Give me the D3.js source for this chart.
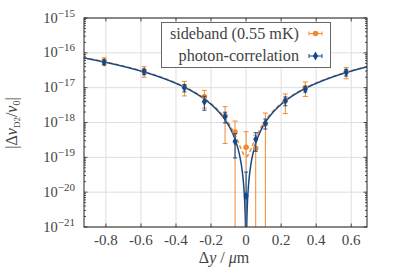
<!DOCTYPE html>
<html><head><meta charset="utf-8">
<script src="https://cdn.jsdelivr.net/npm/d3@7"></script>
<style>
html,body{margin:0;padding:0;background:#fff;}
svg{display:block;font-family:"Liberation Serif","Times New Roman",serif;}
</style></head>
<body><svg id="c" width="395" height="276"></svg>
<script>
// ---- data ----
const xPositions = [-0.81, -0.582, -0.352, -0.238, -0.12, -0.063, 0.0, 0.055, 0.11, 0.224, 0.338, 0.571];
const photonValues = [5.35e-17, 2.87e-17, 9.97e-18, 3.95e-18, 1.47e-18, 2.86e-19, 7.8e-21, 3.29e-19, 9.5e-19, 4.22e-18, 8.97e-18, 2.76e-17];
const photonErrors = [7.7e-18, 5e-18, 2.4e-18, 1.7e-18, 5e-19, 1.9e-19, 3e-20, 1.8e-19, 3e-19, 1.2e-18, 1.5e-18, 6e-18];
const sidebandValues = [5.8e-17, 3.0e-17, 1.05e-17, 5.5e-18, 1.55e-18, 5.33e-19, 1.94e-19, 1.82e-19, 9.2e-19, 4.2e-18, 1.01e-17, 2.8e-17];
const sidebandErrors = [1.35e-17, 1e-17, 4.7e-18, 2.9e-18, 1.3e-18, 5.7e-19, 3.5e-19, 2.5e-19, 9.5e-19, 2.4e-18, 4.5e-18, 1e-17];
const xErrors = [0.008, 0.008, 0.008, 0.008, 0.008, 0.008, 0.008, 0.008, 0.008, 0.008, 0.008, 0.008];
const xTicks = [-0.8, -0.6, -0.4, -0.2, 0, 0.2, 0.4, 0.6];
const xTickLabels = ["-0.8", "-0.6", "-0.4", "-0.2", "0", "0.2", "0.4", "0.6"];
const yTickExponents = [-15, -16, -17, -18, -19, -20, -21];
const legendLabels = ["sideband (0.55 mK)", "photon-correlation"];
// fit-curve parameters (quadratic in Δy)
const photonFitK = 8.3e-17, photonFitX0 = 0.0;
const sidebandFitK = 8.5e-17, sidebandFitOffset = 1.05e-19;

const blue = "#144a8c", orange = "#ef8a2e";
const svg = d3.select("#c");
const L = 84, R = 367, T = 18, B = 227;
const x = d3.scaleLinear().domain([-0.925, 0.69]).range([L, R]);
const y = d3.scaleLog().domain([1e-21, 1e-15]).range([B, T]);

svg.append("defs").append("clipPath").attr("id","clip")
  .append("rect").attr("x",L).attr("y",T).attr("width",R-L).attr("height",B-T);

// grid
const grid = svg.append("g").attr("stroke","#dedede").attr("stroke-width",1);
xTicks.forEach(t=>grid.append("line").attr("x1",x(t)).attr("x2",x(t)).attr("y1",T).attr("y2",B));
yTickExponents.forEach(e=>grid.append("line").attr("x1",L).attr("x2",R).attr("y1",y(Math.pow(10,e))).attr("y2",y(Math.pow(10,e))));

// axes ticks (inward)
const ax = svg.append("g").attr("stroke","#222").attr("stroke-width",0.8);
xTicks.forEach(t=>{
  ax.append("line").attr("x1",x(t)).attr("x2",x(t)).attr("y1",B).attr("y2",B-3.5);
  ax.append("line").attr("x1",x(t)).attr("x2",x(t)).attr("y1",T).attr("y2",T+3.5);
});
for(let e=-21;e<=-15;e++){
  const v=Math.pow(10,e);
  ax.append("line").attr("x1",L).attr("x2",L+3.5).attr("y1",y(v)).attr("y2",y(v));
  ax.append("line").attr("x1",R).attr("x2",R-3.5).attr("y1",y(v)).attr("y2",y(v));
  if(e<-15){
    for(let m=2;m<=9;m++){
      const yy=y(m*v);
      ax.append("line").attr("x1",L).attr("x2",L+2).attr("y1",yy).attr("y2",yy);
      ax.append("line").attr("x1",R).attr("x2",R-2).attr("y1",yy).attr("y2",yy);
    }
  }
}

const plot = svg.append("g").attr("clip-path","url(#clip)");

// fit curves
const xs = d3.range(-0.93, 0.695, 0.0005);
const line = d3.line().x(d=>x(d[0])).y(d=>y(Math.max(d[1],1e-23)));
plot.append("path")
  .datum(xs.map(v=>[v, sidebandFitK*v*v + sidebandFitOffset]))
  .attr("d",line).attr("fill","none").attr("stroke",orange).attr("stroke-width",1.5)
  .attr("stroke-dasharray","4,2.5");
plot.append("path")
  .datum(xs.map(v=>[v, photonFitK*(v-photonFitX0)*(v-photonFitX0)]))
  .attr("d",line).attr("fill","none").attr("stroke",blue).attr("stroke-width",1.5);

function errSeries(vals, errs, color, symbol, size, cap){
  const g = plot.append("g");
  vals.forEach((v,i)=>{
    const lo = v-errs[i], hi = v+errs[i];
    const yhi = y(hi), ylo = lo>0 ? y(lo) : B+20;
    const cx = x(xPositions[i]);
    g.append("line").attr("x1",cx).attr("x2",cx).attr("y1",yhi).attr("y2",ylo).attr("stroke",color).attr("stroke-width",1);
    g.append("line").attr("x1",cx-cap).attr("x2",cx+cap).attr("y1",yhi).attr("y2",yhi).attr("stroke",color).attr("stroke-width",1);
    if(lo>0) g.append("line").attr("x1",cx-cap).attr("x2",cx+cap).attr("y1",ylo).attr("y2",ylo).attr("stroke",color).attr("stroke-width",1);
    const cy = y(v);
    g.append("line").attr("x1",x(xPositions[i]-xErrors[i])).attr("x2",x(xPositions[i]+xErrors[i])).attr("y1",cy).attr("y2",cy).attr("stroke",color).attr("stroke-width",1);
    g.append("path").attr("d",d3.symbol().type(symbol).size(size)()).attr("transform",`translate(${cx},${cy})`).attr("fill",color);
  });
}
errSeries(sidebandValues, sidebandErrors, orange, d3.symbolCircle, 24, 2.5);
errSeries(photonValues, photonErrors, blue, d3.symbolDiamond, 22, 2);

// frame
svg.append("rect").attr("x",L).attr("y",T).attr("width",R-L).attr("height",B-T)
  .attr("fill","none").attr("stroke","#222").attr("stroke-width",1);

// x tick labels
xTicks.forEach((t,i)=>svg.append("text").attr("x",x(t)).attr("y",245).attr("text-anchor","middle")
  .attr("font-size",15).attr("fill","#444").text(xTickLabels[i]));
// y tick labels
yTickExponents.forEach(e=>{
  const t = svg.append("text").attr("x",75).attr("y",y(Math.pow(10,e))+4.5).attr("text-anchor","end").attr("fill","#444").attr("font-size",14.5);
  t.append("tspan").text("10");
  t.append("tspan").attr("dy",-6).attr("font-size",11).text("\u2212"+Math.abs(e));
});

// axis titles
const xt = svg.append("text").attr("x",224).attr("y",263).attr("text-anchor","middle").attr("font-size",16).attr("fill","#444");
xt.append("tspan").text("\u0394");
xt.append("tspan").attr("font-style","italic").text("y");
xt.append("tspan").text(" / ");
xt.append("tspan").attr("font-style","italic").text("\u03bc");
xt.append("tspan").text("m");

const yt = svg.append("text").attr("transform","translate(17,123) rotate(-90)").attr("text-anchor","middle").attr("font-size",16).attr("fill","#444");
yt.append("tspan").text("|\u0394");
yt.append("tspan").attr("font-style","italic").text("\u03bd");
yt.append("tspan").attr("dy",3).attr("font-size",9).text("D2");
yt.append("tspan").attr("dy",-3).text("/");
yt.append("tspan").attr("font-style","italic").text("\u03bd");
yt.append("tspan").attr("dy",3).attr("font-size",10).text("0");
yt.append("tspan").attr("dy",-3).text("|");

// legend
const lg = svg.append("g");
lg.append("rect").attr("x",161.5).attr("y",22.5).attr("width",169).attr("height",45).attr("fill","#fff").attr("stroke","#666").attr("stroke-width",1);
const legendColors = [orange, blue], legendSymbols = [d3.symbolCircle, d3.symbolDiamond];
legendLabels.forEach((lab,i)=>{
  const cy = 33.5 + i*22.5;
  lg.append("text").attr("x",299).attr("y",cy+5).attr("text-anchor","end").attr("font-size",16.2).attr("fill","#444").text(lab);
  lg.append("line").attr("x1",309).attr("x2",322).attr("y1",cy).attr("y2",cy).attr("stroke",legendColors[i]).attr("stroke-width",1);
  lg.append("line").attr("x1",309).attr("x2",309).attr("y1",cy-2).attr("y2",cy+2).attr("stroke",legendColors[i]).attr("stroke-width",1);
  lg.append("line").attr("x1",322).attr("x2",322).attr("y1",cy-2).attr("y2",cy+2).attr("stroke",legendColors[i]).attr("stroke-width",1);
  lg.append("path").attr("d",d3.symbol().type(legendSymbols[i]).size(24)()).attr("transform",`translate(315.5,${cy})`).attr("fill",legendColors[i]);
});
</script></body></html>
